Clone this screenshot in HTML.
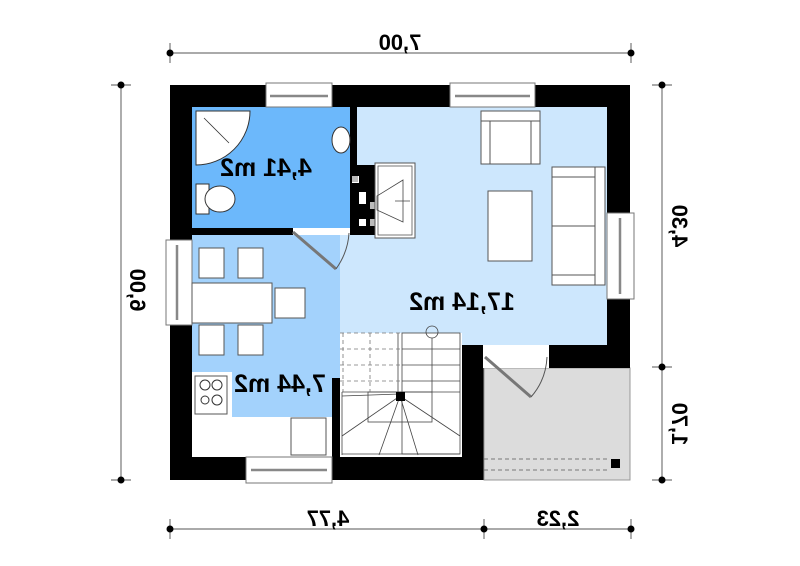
<!DOCTYPE html>
<html><head><meta charset="utf-8"><style>
html,body{margin:0;padding:0;background:#fff;width:800px;height:566px;overflow:hidden}
svg{display:block}
text{font-family:"Liberation Sans",sans-serif;font-weight:bold;fill:#000}
</style></head><body>
<svg width="800" height="566" viewBox="0 0 800 566" xmlns="http://www.w3.org/2000/svg">
<g stroke="#777" stroke-width="1.2" fill="none">
<line x1="170" y1="53" x2="631" y2="53"/>
<line x1="170" y1="43" x2="170" y2="63"/><line x1="631" y1="43" x2="631" y2="63"/>
<line x1="170" y1="529" x2="631" y2="529"/>
<line x1="170" y1="519" x2="170" y2="539"/><line x1="484" y1="519" x2="484" y2="539"/><line x1="631" y1="519" x2="631" y2="539"/>
<line x1="121" y1="85" x2="121" y2="480"/>
<line x1="111" y1="85" x2="131" y2="85"/><line x1="111" y1="480" x2="131" y2="480"/>
<line x1="662" y1="85" x2="662" y2="480"/>
<line x1="652" y1="85" x2="672" y2="85"/><line x1="652" y1="367" x2="672" y2="367"/><line x1="652" y1="480" x2="672" y2="480"/>
</g>
<g fill="#000">
<circle cx="170" cy="53" r="3.5"/><circle cx="631" cy="53" r="3.5"/>
<circle cx="170" cy="529" r="3.5"/><circle cx="484" cy="529" r="3.5"/><circle cx="631" cy="529" r="3.5"/>
<circle cx="121" cy="85" r="3.5"/><circle cx="121" cy="480" r="3.5"/>
<circle cx="662" cy="85" r="3.5"/><circle cx="662" cy="367" r="3.5"/><circle cx="662" cy="480" r="3.5"/>
</g>
<g font-size="22">
<text transform="translate(400,50) scale(-1,1)" text-anchor="middle">7,00</text>
<text transform="translate(328,526) scale(-1,1)" text-anchor="middle">4,77</text>
<text transform="translate(558,526) scale(-1,1)" text-anchor="middle">2,23</text>
<text transform="translate(130,290) scale(-1,1) rotate(-90)" text-anchor="middle">6,00</text>
<text transform="translate(672,226) scale(-1,1) rotate(-90)" text-anchor="middle">4,30</text>
<text transform="translate(672,424) scale(-1,1) rotate(-90)" text-anchor="middle">1,70</text>
</g>
<rect x="170" y="85" width="460" height="395" fill="#000"/>
<rect x="630" y="345" width="10" height="140" fill="#fff"/>
<rect x="484" y="368" width="146" height="112" fill="#dcdcdc" stroke="#999" stroke-width="1"/>
<rect x="549" y="345" width="81" height="23" fill="#000"/>
<rect x="340" y="107" width="267" height="238" fill="#cde7fd"/>
<rect x="192" y="107" width="158" height="121" fill="#6cb8fb"/>
<rect x="192" y="235" width="148" height="222" fill="#a3d2fc"/>
<rect x="192" y="417" width="140" height="40" fill="#fff"/>
<rect x="192" y="372" width="40" height="45" fill="#fff"/>
<rect x="332" y="378" width="8" height="79" fill="#000"/>
<rect x="483" y="345" width="66" height="23" fill="#fff"/>
<rect x="293" y="228" width="57" height="7" fill="#fff"/>
<rect x="350" y="107" width="7" height="128" fill="#000"/>
<rect x="350" y="165" width="25" height="70" fill="#000"/>
<g fill="#fff"><rect x="352" y="176" width="7" height="7"/><rect x="359" y="192" width="7" height="12"/><rect x="359" y="219" width="7" height="7"/></g>
<g fill="#bbb"><rect x="352" y="176" width="6" height="6"/><rect x="370" y="202" width="5" height="7"/><rect x="370" y="219" width="5" height="7"/></g>
<rect x="375" y="163" width="40" height="75" fill="#fff" stroke="#555"/>
<rect x="378" y="166" width="34" height="69" fill="#fff" stroke="#555" stroke-width=".8"/>
<path d="M377 196 L403 180 L403 222 L377 210Z M377 196 V210 M395 201 H410" fill="none" stroke="#444" stroke-width=".8"/>
<rect x="340" y="333" width="122" height="124" fill="#fff"/>
<g stroke="#444" stroke-width=".8" fill="none">
<rect x="402" y="333" width="58" height="121"/>
<line x1="402" y1="349" x2="460" y2="349"/><line x1="402" y1="365" x2="460" y2="365"/><line x1="402" y1="381" x2="460" y2="381"/>
<line x1="342" y1="392" x2="460" y2="392"/>
<line x1="342" y1="392" x2="342" y2="455"/>
<line x1="342" y1="454" x2="460" y2="454"/>
<line x1="400" y1="396" x2="342" y2="436"/><line x1="400" y1="396" x2="379" y2="455"/><line x1="400" y1="396" x2="418" y2="455"/><line x1="400" y1="396" x2="460" y2="436"/>
<line x1="400" y1="394" x2="342" y2="396"/>
<line x1="398" y1="333" x2="398" y2="392"/>
<rect x="368" y="392" width="64" height="30"/>
<circle cx="432" cy="332" r="6"/>
<line x1="432" y1="338" x2="432" y2="392"/>
</g>
<rect x="396" y="392" width="9" height="9" fill="#000"/>
<g stroke="#777" stroke-width=".8" stroke-dasharray="4,3" fill="none">
<line x1="340" y1="349" x2="400" y2="349"/><line x1="340" y1="365" x2="400" y2="365"/><line x1="340" y1="381" x2="400" y2="381"/>
<line x1="370" y1="333" x2="370" y2="392"/><line x1="343" y1="333" x2="343" y2="392"/>
<line x1="340" y1="333" x2="400" y2="333"/>
</g>
<g fill="#fff" stroke="#777" stroke-width="1">
<rect x="266" y="83" width="66" height="24"/><rect x="450" y="83" width="85" height="24"/>
<rect x="166" y="240" width="26" height="85"/><rect x="607" y="213" width="27" height="86"/>
<rect x="246" y="457" width="86" height="26"/>
</g>
<g stroke="#888" stroke-width="2.5"><line x1="270" y1="96" x2="328" y2="96"/><line x1="455" y1="96" x2="530" y2="96"/>
<line x1="177" y1="245" x2="177" y2="320"/><line x1="620" y1="218" x2="620" y2="294"/><line x1="251" y1="470" x2="327" y2="470"/></g>
<path d="M196 111 H250 A54 54 0 0 1 196 165 Z" fill="#fff" stroke="#333"/>
<path d="M204 118 L229 143" stroke="#333" stroke-width=".8"/>
<rect x="196" y="184" width="13" height="30" fill="#fff" stroke="#333"/>
<ellipse cx="220" cy="199" rx="15" ry="13" fill="#fff" stroke="#333"/>
<ellipse cx="341" cy="140" rx="9" ry="13" fill="#fff" stroke="#333"/>
<g stroke="#555" fill="none" stroke-width="1">
<path d="M293 232 L336 269" stroke-width="3" stroke="#777"/>
<path d="M336 269 Q348 252 349 233"/>
<path d="M485 357 L531 397" stroke-width="3" stroke="#777"/>
<path d="M531 397 Q546 380 547 357"/>
</g>
<g fill="#fff" stroke="#555">
<rect x="199" y="248" width="25" height="30"/><rect x="238" y="248" width="25" height="30"/>
<rect x="192" y="283" width="80" height="40"/>
<rect x="275" y="288" width="30" height="30"/>
<rect x="199" y="325" width="25" height="30"/><rect x="238" y="325" width="25" height="30"/>
<rect x="195" y="376" width="32" height="38"/>
<rect x="291" y="418" width="35" height="37"/>
</g>
<g fill="none" stroke="#333"><circle cx="205" cy="385" r="5"/><circle cx="217" cy="385" r="5"/><circle cx="205" cy="400" r="4"/><circle cx="217" cy="400" r="5"/></g>
<g fill="#fff" stroke="#555">
<rect x="481" y="111" width="59" height="53"/><line x1="481" y1="121" x2="540" y2="121"/><line x1="490" y1="121" x2="490" y2="164"/><line x1="531" y1="121" x2="531" y2="164"/>
<rect x="488" y="191" width="44" height="70"/>
<rect x="552" y="167" width="53" height="118"/><line x1="552" y1="177" x2="595" y2="177"/><line x1="552" y1="226" x2="595" y2="226"/><line x1="552" y1="275" x2="595" y2="275"/><line x1="595" y1="167" x2="595" y2="285"/>
</g>
<g stroke="#777" stroke-dasharray="4,3"><line x1="484" y1="459" x2="610" y2="459"/><line x1="484" y1="470" x2="610" y2="470"/></g>
<rect x="611" y="459" width="9" height="9" fill="#000"/>
<g font-size="25">
<text transform="translate(266,176) scale(-1,1)" text-anchor="middle">4,41 m2</text>
<text transform="translate(462,310) scale(-1,1)" text-anchor="middle">17,14 m2</text>
<text transform="translate(280,392) scale(-1,1)" text-anchor="middle">7,44 m2</text>
</g>
</svg>
</body></html>
